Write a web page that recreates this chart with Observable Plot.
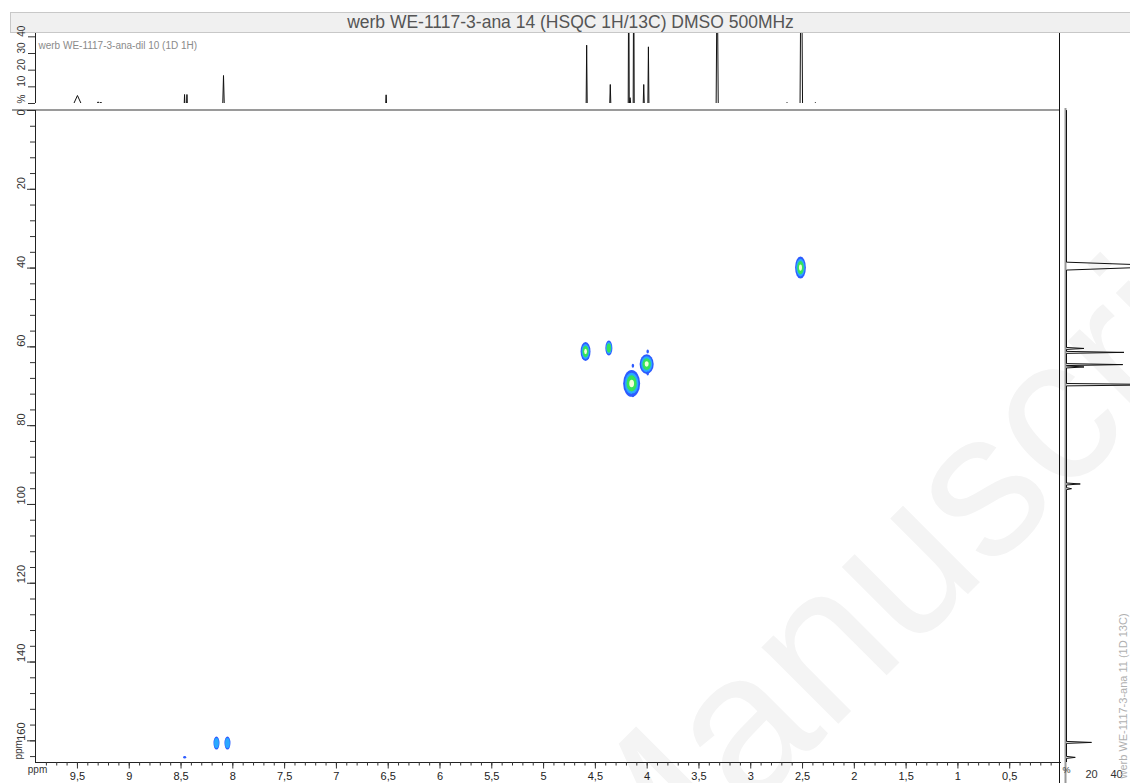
<!DOCTYPE html>
<html><head><meta charset="utf-8">
<script src="https://cdn.jsdelivr.net/npm/d3@7"></script>
<script src="https://cdn.jsdelivr.net/npm/@observablehq/plot@0.6"></script>
<style>
body{margin:0;background:#fff;font-family:"Liberation Sans",Arial,sans-serif;}
#wrap{position:relative;width:1130px;height:783px;overflow:hidden;background:#fff;}
.abs{position:absolute;}
#title{left:10px;top:12px;width:1119px;height:19px;background:#f0f0f0;border:1px solid #c8c8c8;border-right:none;
  color:#555;font-size:17.5px;line-height:19px;text-align:center;white-space:nowrap;}
</style></head><body><div id="wrap">
<svg class="abs" width="1130" height="783" style="left:0;top:0">
  <text id="wm" x="627" y="935" transform="rotate(-45 627 935)" font-size="205" fill="#f4f4f4"
    font-family="Liberation Sans, Arial, sans-serif">Manuscript</text>
</svg>
<div id="title" class="abs"></div>
<div id="top" class="abs" style="left:0;top:33px"></div>
<div class="abs" style="left:12px;top:109px;width:1047px;height:2px;background:#9a9a9a"></div>
<div id="main" class="abs" style="left:0;top:110px"></div>
<div id="right" class="abs" style="left:1060px;top:110px"></div>
<div class="abs" style="left:1059px;top:33px;width:1px;height:750px;background:#111"></div>
</div>
<script>
// ---- text ----
const titleText = "werb WE-1117-3-ana 14 (HSQC 1H/13C) DMSO 500MHz";
const topLabel = "werb WE-1117-3-ana-dil 10 (1D 1H)";
const rightLabel = "werb WE-1117-3-ana 11 (1D 13C)";

// ---- axes ----
const xMax = 9.905;            // left edge of 1H axis (ppm)
const yMax = 165.5;            // bottom edge of 13C axis (ppm)
const xMajor = [9.5, 9, 8.5, 8, 7.5, 7, 6.5, 6, 5.5, 5, 4.5, 4, 3.5, 3, 2.5, 2, 1.5, 1, 0.5];
const yMajor = [0, 20, 40, 60, 80, 100, 120, 140, 160];
const topTicks = [0, 10, 20, 30, 40];
const rightTicks = [0, 20, 40];

// ---- 1D 1H spectrum (top): peak position, intensity %, half base width ----
const hPpm   = [9.50, 9.30, 9.275, 8.466, 8.443, 8.090, 6.520, 4.584, 4.356, 4.178, 4.165, 4.130, 4.033, 3.988, 3.324, 2.650, 2.512, 2.376];
const hInt   = [4.8, 1.0, 0.9, 5.4, 5.4, 16.8, 5.2, 35, 11.4, 90, 3.5, 90, 11.4, 34, 90, 0.6, 120, 0.6];
const hWidth = [0.035, 0.012, 0.012, 0.003, 0.003, 0.007, 0.004, 0.005, 0.005, 0.005, 0.006, 0.005, 0.005, 0.005, 0.010, 0.004, 0.012, 0.004];

// ---- 1D 13C spectrum (right) ----
const cPpm   = [39.5, 60.4, 61.4, 64.5, 65.1, 69.6, 94.8, 96.0, 160.4, 164.2];
const cInt   = [90, 14, 46, 45, 14, 90, 11, 4, 20, 7];
const cWidth = [1.0, 0.25, 0.25, 0.25, 0.25, 0.3, 0.25, 0.25, 0.25, 0.25];

// ---- HSQC cross peaks: 1H ppm, 13C ppm, half widths, number of contour levels ----
const pkH      = [2.515, 4.590, 4.365, 4.145, 4.000, 8.153, 8.047, 8.460, 4.133, 4.133, 3.990, 3.990];
const pkC      = [40.0, 61.3, 60.4, 69.4, 64.5, 160.7, 160.7, 164.3, 64.9, 72.4, 61.3, 66.9];
const pkWH     = [0.052, 0.048, 0.034, 0.082, 0.068, 0.029, 0.029, 0.015, 0.012, 0.012, 0.012, 0.012];
const pkWC     = [2.8, 2.4, 1.9, 3.4, 2.5, 1.65, 1.65, 0.3, 0.5, 0.5, 0.5, 0.5];
const pkLevels = [4, 4, 3, 4, 4, 2, 2, 1, 1, 1, 1, 1];

const levelScale = [1, 0.8, 0.6, 0.28];
const levelColor = ["#2d5bff", "#2aa8ff", "#35e35a", "#f2ffd6"];

document.getElementById("title").textContent = titleText;

// build tables
const hTrace = [{ppm: xMax, i: 0}];
hPpm.forEach((p, k) => {
  hTrace.push({ppm: p + hWidth[k], i: 0}, {ppm: p, i: hInt[k]}, {ppm: p - hWidth[k], i: 0});
});
hTrace.push({ppm: 0, i: 0});

const cTrace = [{ppm: 0, i: 0}];
cPpm.forEach((p, k) => {
  cTrace.push({ppm: p - cWidth[k], i: 0}, {ppm: p, i: cInt[k]}, {ppm: p + cWidth[k], i: 0});
});
cTrace.push({ppm: yMax, i: 0});

const rects = [];
pkH.forEach((h, k) => {
  for (let L = 0; L < pkLevels[k]; L++) {
    const s = levelScale[L];
    rects.push({x1: h - pkWH[k] * s, x2: h + pkWH[k] * s,
                y1: pkC[k] - pkWC[k] * s, y2: pkC[k] + pkWC[k] * s, fill: levelColor[L]});
  }
});

const font = "Liberation Sans, Arial, sans-serif";
const fmt = d => String(d).replace(".", ",");

// top 1H spectrum
const topPlot = Plot.plot({
  width: 1061, height: 77, marginLeft: 35, marginRight: 0, marginTop: 0, marginBottom: 7,
  x: {domain: [xMax, 0], axis: null},
  y: {domain: [0, 42], axis: null},
  style: {fontFamily: font, fontSize: "10px", color: "#333", background: "transparent", overflow: "visible"},
  marks: [
    Plot.line(hTrace, {x: "ppm", y: "i", stroke: "#111", strokeWidth: 1, clip: true}),
    Plot.ruleX([xMax], {stroke: "#222"}),
    Plot.axisY({ticks: topTicks, anchor: "left", label: null, tickSize: 7, tickFormat: () => "", stroke: "#333"}),
    Plot.text(topTicks, {y: d => d, text: d => d === 0 ? "%" : String(d), frameAnchor: "left", dx: -14, rotate: -90, fontSize: 10, fill: "#333"}),
    Plot.text([topLabel], {text: d => d, frameAnchor: "top-left", dx: 3, dy: 8, textAnchor: "start", fontSize: 10, fill: "#8a8a8a"})
  ]
});
document.getElementById("top").appendChild(topPlot);

// main HSQC
const mainPlot = Plot.plot({
  width: 1061, height: 673, marginLeft: 35, marginRight: 0, marginTop: 0, marginBottom: 21,
  x: {domain: [xMax, 0], axis: null},
  y: {domain: [0, yMax], reverse: true, axis: null},
  color: {type: "identity"},
  style: {fontFamily: font, fontSize: "11px", color: "#222", background: "transparent", overflow: "visible"},
  marks: [
    Plot.rect(rects, {x1: "x1", x2: "x2", y1: "y1", y2: "y2", fill: "fill", rx: 100, ry: 100}),
    Plot.ruleY([yMax], {stroke: "#222"}),
    Plot.ruleX([xMax], {stroke: "#222"}),
    Plot.axisX({ticks: d3.range(1, 99).map(d => d / 10), anchor: "bottom", label: null, tickSize: 3.5, tickFormat: () => "", stroke: "#333"}),
    Plot.axisX({ticks: xMajor, anchor: "bottom", label: null, tickSize: 6.5, tickPadding: 3, tickFormat: fmt, stroke: "#333", fontSize: 11}),
    Plot.axisY({ticks: d3.range(4, 165, 4), anchor: "left", label: null, tickSize: 5, tickFormat: () => "", stroke: "#333"}),
    Plot.axisY({ticks: yMajor, anchor: "left", label: null, tickSize: 8, tickFormat: () => "", stroke: "#333"}),
    Plot.text(yMajor.filter(d => d > 0), {y: d => d, text: d => String(d), frameAnchor: "left", dx: -14, rotate: -90, fontSize: 11, fill: "#333"}),
    Plot.text([0], {y: d => d, text: d => String(d), frameAnchor: "left", dx: -14, dy: 5, rotate: -90, fontSize: 11, fill: "#333"}),
    Plot.text(["ppm"], {text: d => d, frameAnchor: "bottom-left", dx: -14, dy: -3, rotate: -90, fontSize: 10, fill: "#333"}),
    Plot.text(["ppm"], {text: d => d, frameAnchor: "bottom-left", dx: 2, dy: 10, textAnchor: "middle", fontSize: 10, fill: "#333"})
  ]
});
document.getElementById("main").appendChild(mainPlot);

// right 13C spectrum
const rightPlot = Plot.plot({
  width: 70, height: 673, marginLeft: 6, marginRight: 0, marginTop: 0, marginBottom: 21,
  x: {domain: [0, 51.2], axis: null},
  y: {domain: [0, yMax], reverse: true, axis: null},
  style: {fontFamily: font, fontSize: "11px", color: "#222", background: "transparent", overflow: "visible"},
  marks: [
    Plot.ruleX([0], {stroke: "#9a9a9a", strokeWidth: 2, dx: -1, insetTop: -2, insetBottom: -21}),
    Plot.line(cTrace, {x: "i", y: "ppm", stroke: "#111", strokeWidth: 1, clip: true}),
    Plot.text(rightTicks.filter(d => d > 0), {x: d => d, text: d => String(d), frameAnchor: "bottom", dy: 15, fontSize: 11, fill: "#333"}),
    Plot.text([0], {x: d => d, text: () => "%", frameAnchor: "bottom", dy: 10, fontSize: 9, fill: "#333"}),
    Plot.text([rightLabel], {text: d => d, frameAnchor: "bottom-right", dx: -4, dy: 16, rotate: -90, textAnchor: "start", fontSize: 11, fill: "#b0b0b0"})
  ]
});
document.getElementById("right").appendChild(rightPlot);
</script>
</body></html>
